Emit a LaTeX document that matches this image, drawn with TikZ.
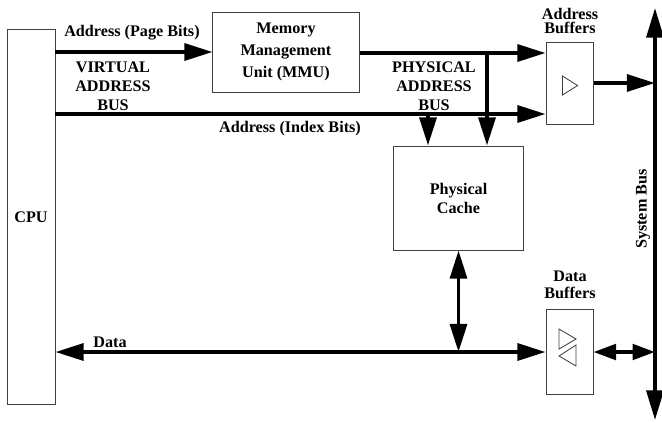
\documentclass[tikz,border=0pt]{standalone}
\usepackage{fontspec}
\setmainfont{Liberation Serif}
\usetikzlibrary{arrows.meta,positioning}

\begin{document}
\begin{tikzpicture}[x=0.025cm, y=-0.025cm,
    font=\fontsize{11.5}{13.5}\selectfont\bfseries,
    unit/.style={draw=black!75, line width=0.7pt, align=center, inner sep=0pt},
    lbl/.style={align=center, inner sep=0pt},
    bus/.style={line width=2.6pt, -{Triangle[length=20pt,width=12pt]}},
    busboth/.style={line width=2.6pt, {Triangle[length=20pt,width=12pt]}-{Triangle[length=20pt,width=12pt]}},
    busshort/.style={line width=2.6pt, {Triangle[length=16pt,width=11pt]}-{Triangle[length=16pt,width=11pt]}},
    gate/.style={draw=black!75, line width=0.6pt}]
    \useasboundingbox (0,0) rectangle (662,422);

    % Units
    \node[unit, minimum width=1.2cm, minimum height=9.35cm] (cpu) at (31,217) {CPU};
    \node[unit, minimum width=3.65cm, minimum height=2cm,
          font=\fontsize{11.5}{15.5}\selectfont\bfseries] (mmu) at (286,52) {Memory\\Management\\Unit (MMU)};
    \node[unit, minimum width=3.225cm, minimum height=2.6cm] (cache) at (458.5,198) {Physical\\Cache};
    \node[unit, minimum width=1.175cm, minimum height=2.05cm] (abuf) at (569.5,83) {};
    \node[unit, minimum width=1.175cm, minimum height=2.125cm] (dbuf) at (569.5,352) {};

    % Buffer symbols
    \draw[gate, shift={(abuf.center)}] (-7,-7) -- (-7,12) -- (8,2.5) -- cycle;
    \draw[gate, shift={(dbuf.center)}] (-10.5,-23) -- (-10.5,-3) -- (6.5,-13) -- cycle;
    \draw[gate, shift={(dbuf.center)}] (6.5,-7) -- (6.5,14) -- (-10.5,4) -- cycle;

    % System bus
    \coordinate (sbtop) at (655,8);
    \coordinate (sbbot) at (655,420);
    \draw[busboth, {Triangle[length=21pt,width=12pt]}-{Triangle[length=21pt,width=12pt]}] (sbbot) -- (sbtop);
    \node[lbl, rotate=90] (sblbl) at (643,209) {System Bus};

    % Virtual address bus
    \coordinate (ix) at (428,114);
    \draw[bus] (cpu.east |- mmu.west) -- (mmu.west);
    \draw[bus] (cpu.east |- ix) -- (abuf.west |- ix);
    \draw[bus] (ix) -- (ix |- cache.north);

    % Physical address bus
    \coordinate (px) at (487,53);
    \draw[bus] (mmu.east |- px) -- (abuf.west |- px);
    \draw[bus] (px) -- (px |- cache.north);

    % Buffers to system bus
    \draw[bus] (abuf.east) -- (abuf.east -| sbtop);
    \draw[busshort] (dbuf.east) -- (dbuf.east -| sbtop);

    % Data bus
    \draw[busboth] (cpu.east |- dbuf.west) -- (dbuf.west);
    \draw[busboth] (cache.south) -- (cache.south |- dbuf.west);

    % Labels
    \node[lbl] (pagelbl) at (132,33) {Address (Page Bits)};
    \node[lbl] (indexlbl) at (290,129) {Address (Index Bits)};
    \node[lbl] (vablbl) at (113,86) {VIRTUAL\\ADDRESS\\BUS};
    \node[lbl] (pablbl) at (434,86) {PHYSICAL\\ADDRESS\\BUS};
    \node[lbl, font=\fontsize{11.5}{10.5}\selectfont\bfseries] (ablbl) at (570,21) {Address\\Buffers};
    \node[lbl, font=\fontsize{11.5}{12}\selectfont\bfseries] (dblbl) at (570,285) {Data\\Buffers};
    \node[lbl] (datalbl) at (110,342) {Data};
\end{tikzpicture}
\end{document}
